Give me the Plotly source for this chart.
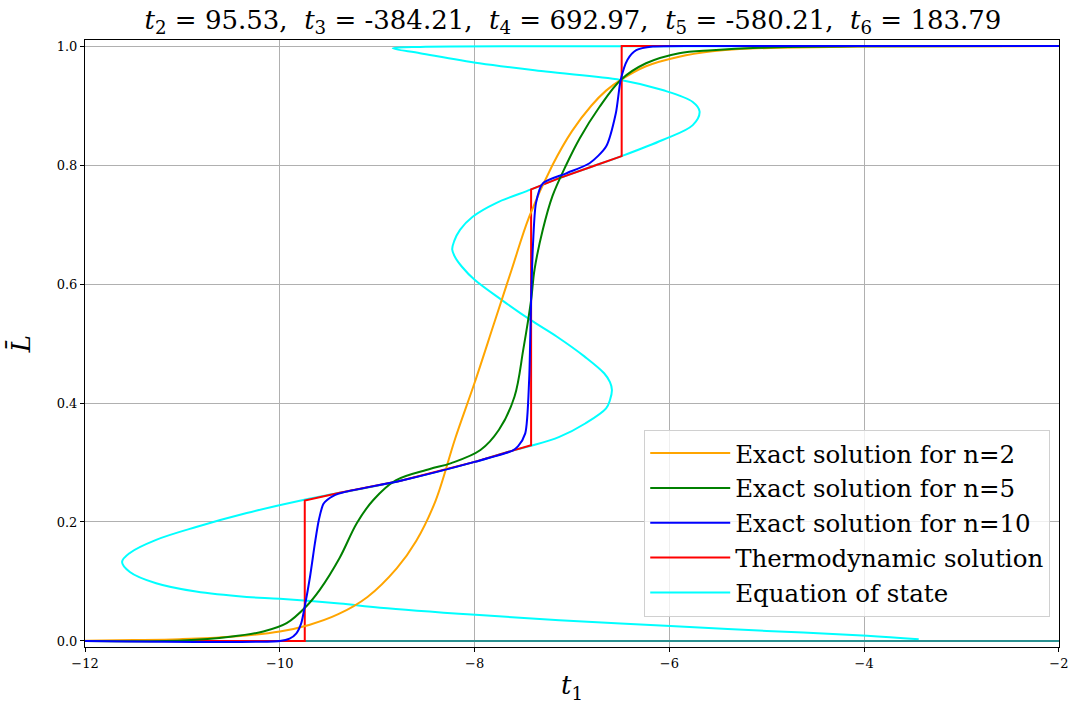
import plotly.graph_objects as go

# Equation of state: (t1, L) pairs along the S-shaped curve, ordered by L
eos_t1 = [-3.44, -3.97, -5.0, -5.99, -7.13, -7.99, -8.97, -9.385, -10.0, -10.34, -10.86,
          -11.27, -11.54, -11.62, -11.54, -11.27, -10.85, -10.34, -9.76, -9.385, -8.77, -8.0,
          -7.61, -7.42, -7.13, -6.86, -6.65, -6.61, -6.59, -6.61, -6.67, -6.87, -7.15, -7.43,
          -7.72, -8.0, -8.13, -8.20, -8.23, -8.21, -8.15, -8.02, -7.78, -7.42, -7.13, -6.80,
          -6.49, -6.07, -5.76, -5.69, -5.76, -6.07, -6.50, -7.27, -7.95, -8.56, -8.84, -8.56,
          -7.0, -2.0]
eos_L = [0.003, 0.009, 0.017, 0.025, 0.035, 0.044, 0.056, 0.063, 0.071, 0.074, 0.083,
         0.097, 0.116, 0.133, 0.148, 0.170, 0.192, 0.215, 0.237, 0.249, 0.269, 0.301,
         0.320, 0.328, 0.343, 0.366, 0.391, 0.405, 0.422, 0.435, 0.450, 0.478, 0.511, 0.540,
         0.573, 0.607, 0.629, 0.645, 0.658, 0.672, 0.691, 0.713, 0.736, 0.759, 0.778, 0.797,
         0.815, 0.842, 0.867, 0.890, 0.906, 0.926, 0.943, 0.957, 0.971, 0.988, 0.996, 0.9985,
         0.9995, 1.0]

# Thermodynamic (equal-area) solution
thermo_t1 = [-12.0, -9.744, -9.744, -9.385, -8.77, -8.0, -7.61, -7.42, -7.42, -7.13, -6.80,
             -6.49, -6.49, -2.0]
thermo_L = [0.0, 0.0, 0.236, 0.249, 0.269, 0.301, 0.320, 0.329, 0.759, 0.778, 0.797,
            0.815, 1.0, 1.0]

# Exact solution, n = 2
n2_t1 = [-12.0, -11.5, -11.03, -10.51, -10.0, -9.7, -9.4, -9.1, -8.8, -8.6, -8.4,
         -8.2, -8.0, -7.8, -7.62, -7.44, -7.20, -7.0, -6.80, -6.65, -6.50, -6.24, -5.90,
         -5.56, -5.28, -4.87, -4.0, -2.0]
n2_L = [0.0005, 0.0015, 0.003, 0.007, 0.016, 0.027, 0.045, 0.074, 0.122, 0.168, 0.236,
        0.340, 0.434, 0.534, 0.624, 0.713, 0.800, 0.857, 0.900, 0.925, 0.943, 0.966, 0.982,
        0.991, 0.995, 0.997, 0.999, 1.0]

# Exact solution, n = 5
n5_t1 = [-12.0, -11.0, -10.51, -10.17, -9.93, -9.73, -9.59, -9.385, -9.21, -9.04, -8.81,
         -8.46, -8.24, -7.94, -7.75, -7.59, -7.50, -7.42, -7.385, -7.30, -7.20, -7.06,
         -6.92, -6.72, -6.50, -6.24, -5.90, -5.56, -5.08, -4.0, -2.0]
n5_L = [0.0, 0.001, 0.007, 0.016, 0.030, 0.058, 0.086, 0.140, 0.198, 0.237, 0.270,
        0.289, 0.299, 0.321, 0.355, 0.411, 0.490, 0.573, 0.624, 0.691, 0.748, 0.800,
        0.845, 0.897, 0.943, 0.971, 0.988, 0.993, 0.997, 0.9995, 1.0]

# Exact solution, n = 10
n10_t1 = [-12.0, -10.0, -9.90, -9.83, -9.78, -9.744, -9.69, -9.64, -9.60, -9.55, -9.45,
          -9.32, -8.77, -8.0, -7.61, -7.555, -7.48, -7.44, -7.43, -7.42, -7.40, -7.37,
          -7.30, -7.06, -6.82, -6.65, -6.55, -6.50, -6.43, -6.34, -6.17, -5.5, -2.0]
n10_L = [0.0, 0.0, 0.004, 0.013, 0.030, 0.058, 0.108, 0.164, 0.203, 0.231, 0.244,
         0.251, 0.269, 0.301, 0.320, 0.327, 0.349, 0.439, 0.500, 0.573, 0.668, 0.736,
         0.769, 0.786, 0.803, 0.831, 0.887, 0.943, 0.977, 0.993, 0.999, 1.0, 1.0]

# Zero baseline beyond the first jump
base_t1 = [-9.744, -2.0]
base_L = [0.0, 0.0]

title_text = ("<i>t</i><sub>2</sub> = 95.53,  <i>t</i><sub>3</sub> = -384.21,  "
              "<i>t</i><sub>4</sub> = 692.97,  <i>t</i><sub>5</sub> = -580.21,  "
              "<i>t</i><sub>6</sub> = 183.79")

SERIF = "DejaVu Serif"

fig = go.Figure()

fig.add_trace(go.Scatter(x=eos_t1, y=eos_L, mode="lines", name="Equation of state",
                         line=dict(color="#00ffff", width=2, shape="spline", smoothing=1.0),
                         legendrank=5))
fig.add_trace(go.Scatter(x=base_t1, y=base_L, mode="lines", showlegend=False,
                         line=dict(color="#2a9090", width=2), hoverinfo="skip"))
fig.add_trace(go.Scatter(x=thermo_t1, y=thermo_L, mode="lines", name="Thermodynamic solution",
                         line=dict(color="#ff0000", width=2), legendrank=4))
fig.add_trace(go.Scatter(x=n2_t1, y=n2_L, mode="lines", name="Exact solution for n=2",
                         line=dict(color="#ffa500", width=2, shape="spline", smoothing=1.0),
                         legendrank=1))
fig.add_trace(go.Scatter(x=n5_t1, y=n5_L, mode="lines", name="Exact solution for n=5",
                         line=dict(color="#008000", width=2, shape="spline", smoothing=1.0),
                         legendrank=2))
fig.add_trace(go.Scatter(x=n10_t1, y=n10_L, mode="lines", name="Exact solution for n=10",
                         line=dict(color="#0000ff", width=2, shape="spline", smoothing=0.7),
                         legendrank=3))

axis_common = dict(
    showline=True, linecolor="black", linewidth=1, mirror=True,
    ticks="outside", ticklen=4, tickcolor="black", tickwidth=1,
    showgrid=True, gridcolor="#b0b0b0", gridwidth=1, zeroline=False,
    tickfont=dict(family=SERIF, size=13, color="black"),
    ticklabeloverflow="allow", automargin=False,
)

fig.update_layout(
    width=1069, height=707,
    margin=dict(l=85, r=10, t=40, b=60),
    paper_bgcolor="white", plot_bgcolor="white",
    title=dict(text=title_text, x=0.536, xanchor="center", y=0.972, yanchor="middle",
               font=dict(family=SERIF, size=26, color="black")),
    xaxis=dict(range=[-12.0005, -1.9995], tickvals=[-12, -10, -8, -6, -4, -2],
               title=dict(text="<i>t</i><sub>1</sub>", standoff=6,
                          font=dict(family=SERIF, size=26, color="black")),
               **axis_common),
    yaxis=dict(range=[-0.0101, 1.0101], tickvals=[0, 0.2, 0.4, 0.6, 0.8, 1.0],
               tickformat=".1f",
               title=dict(text="<i>L\u0304</i>", standoff=18,
                          font=dict(family=SERIF, size=26, color="black")),
               **axis_common),
    legend=dict(x=0.991, xanchor="right", y=0.05, yanchor="bottom",
                bgcolor="rgba(255,255,255,0.8)", bordercolor="#d0d0d0", borderwidth=1,
                font=dict(family=SERIF, size=24.5, color="black"), tracegroupgap=0,
                itemwidth=80),
    showlegend=True,
)

fig.write_html("out.html")
